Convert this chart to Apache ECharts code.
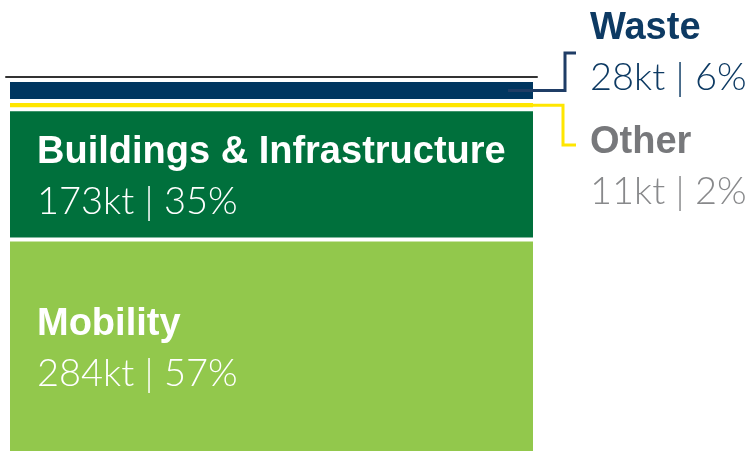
<!DOCTYPE html>
<html>
<head>
<meta charset="utf-8">
<script src="https://cdn.jsdelivr.net/npm/echarts@6/dist/echarts.min.js"></script>
<style>
  html, body { margin: 0; padding: 0; background: #fff; }
  #chart { width: 750px; height: 454px; }
</style>
</head>
<body>
<div id="chart"></div>
<script>
  // stack order, bottom to top
  var sectors = ['Mobility', 'Buildings & Infrastructure', 'Other', 'Waste'];
  var emissions = [284, 173, 11, 28];   // kt
  var unit = 'kt';

  var total = emissions.reduce(function (a, b) { return a + b; }, 0);

  var fills = {
    'Mobility': '#92c84c',
    'Buildings & Infrastructure': '#00703c',
    'Other': '#ffe600',
    'Waste': '#003660'
  };

  var boldFont = '"Liberation Sans", Arial, sans-serif';
  var lightFont = 'Lato, "Open Sans", sans-serif';

  function richFor(nameColor, valueColor) {
    return {
      n: { fontFamily: boldFont, fontWeight: 'bold', fontSize: 38, lineHeight: 49, color: nameColor },
      v: { fontFamily: lightFont, fontWeight: 300, fontSize: 38, lineHeight: 49, color: valueColor }
    };
  }

  function labelText(i) {
    var pct = Math.round(emissions[i] / total * 100);
    return '{n|' + sectors[i] + '}\n{v|' + emissions[i] + unit + ' | ' + pct + '%}';
  }

  // outside labels for the thin segments
  var outside = {
    'Waste': { y: 53, name: '#0d3a63', value: '#0d3a63' },
    'Other': { y: 167, name: '#77787b', value: '#88898b' }
  };

  var series = sectors.map(function (name, i) {
    var s = {
      name: name,
      type: 'bar',
      stack: 'total',
      barWidth: 527,
      data: [emissions[i]],
      itemStyle: { color: fills[name], borderColor: '#fff', borderWidth: 2 },
      label: {
        show: true,
        formatter: function () { return labelText(i); }
      },
      emphasis: { disabled: true },
      silent: true
    };
    if (outside[name]) {
      var o = outside[name];
      s.label.rich = richFor(o.name, o.value);
      s.labelLayout = function () {
        return { x: 590, y: o.y, align: 'left', verticalAlign: 'middle' };
      };
    } else {
      s.label.position = 'insideLeft';
      s.label.distance = 29;
      s.label.offset = [0, 3];
      s.label.rich = richFor('#fff', '#fff');
    }
    return s;
  });

  var chart = echarts.init(document.getElementById('chart'));
  chart.setOption({
    animation: false,
    grid: { left: 6, right: 213, top: 77, bottom: 1 },
    xAxis: {
      type: 'category',
      position: 'top',
      data: ['total'],
      axisLine: { show: true, onZero: false, lineStyle: { color: '#333', width: 2 } },
      axisTick: { show: false },
      axisLabel: { show: false }
    },
    yAxis: {
      type: 'value',
      min: 0,
      max: 500,
      show: false,
      splitLine: { show: false }
    },
    series: series
  });

  // leader lines from the thin segments to their labels
  function midOf(name) {
    var i = sectors.indexOf(name);
    var below = 0;
    for (var k = 0; k < i; k++) below += emissions[k];
    return chart.convertToPixel({ yAxisIndex: 0 }, below + emissions[i] / 2);
  }
  var yW = midOf('Waste');
  var yO = midOf('Other');

  chart.setOption({
    graphic: [
      {
        type: 'polyline', z: 100, silent: true,
        shape: { points: [[508, yW], [565, yW], [565, 53], [576, 53]] },
        style: { stroke: '#1f3d66', lineWidth: 3, fill: null }
      },
      {
        type: 'polyline', z: 100, silent: true,
        shape: { points: [[533, yO], [563, yO], [563, 145], [576, 145]] },
        style: { stroke: '#ffe600', lineWidth: 3, fill: null }
      }
    ]
  });
</script>
</body>
</html>
